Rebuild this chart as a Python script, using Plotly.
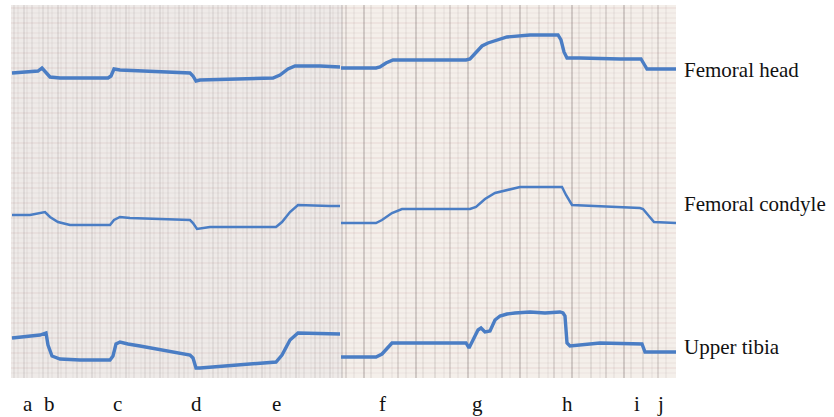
import plotly.graph_objects as go

# ---- data (time positions along the recording, level readings) ----
head_t = [12, 38, 42, 46, 50, 60, 108, 111, 114, 120, 150, 190, 193, 196, 200, 240, 273, 280, 288, 295, 320, 340,
          None,
          341, 376, 380, 386, 393, 430, 466, 470, 476, 482, 488, 497, 507, 530, 558, 561, 564, 567, 580, 620, 641, 644, 647, 676]
head_y = [73, 71, 68, 72, 77, 78, 78, 76, 69, 70, 71, 73, 76, 81, 80, 79, 78, 75, 69, 66, 66, 67,
          None,
          68, 68, 67, 63, 60, 60, 60, 59, 52, 46, 43, 40, 37, 35, 35, 40, 52, 58, 58, 59, 59, 64, 69, 69]

condyle_t = [12, 30, 45, 50, 58, 70, 110, 114, 120, 130, 190, 193, 197, 210, 276, 282, 290, 298, 330, 340,
             None,
             341, 376, 382, 392, 402, 440, 470, 476, 485, 495, 520, 562, 566, 572, 600, 640, 643, 648, 654, 676]
condyle_y = [215, 215, 212, 217, 222, 225, 225, 220, 217, 218, 220, 223, 229, 227, 227, 222, 212, 205, 206, 206,
             None,
             223, 223, 220, 213, 209, 209, 209, 207, 199, 193, 187, 187, 195, 205, 206, 208, 209, 215, 222, 223]

tibia_t = [12, 40, 46, 48, 52, 60, 80, 110, 113, 116, 120, 128, 140, 190, 193, 196, 200, 240, 276, 282, 290, 298, 340,
           None,
           341, 376, 382, 392, 466, 469, 472, 478, 481, 485, 490, 495, 500, 507, 515, 530, 545, 560, 563, 565, 567, 570, 600, 640, 642, 645, 676]
tibia_y = [338, 335, 333, 345, 356, 359, 360, 360, 356, 344, 342, 344, 346, 355, 358, 368, 368, 365, 362, 355, 340, 333, 334,
           None,
           357, 357, 354, 343, 343, 348, 342, 330, 328, 332, 331, 320, 316, 314, 313, 312, 313, 312, 313, 316, 343, 346, 343, 344, 344, 352, 352]

series_names = ["Femoral head", "Femoral condyle", "Upper tibia"]
series_label_y = [70, 204, 347]

event_labels = ["a", "b", "c", "d", "e", "f", "g", "h", "i", "j"]
event_t = [28, 49, 117, 197, 276, 382, 477, 567, 637, 660]

# ---- layout constants ----
W, H = 834, 417
X0, X1 = 11, 676      # plot left/right in x units (= pixels)
Y0, Y1 = 5, 378       # top/bottom
LINE = "#4a7dc4"

fig = go.Figure()

shapes = []
shapes.append(dict(type="rect", xref="x", yref="y", x0=X0, x1=342, y0=Y0, y1=Y1,
                   fillcolor="#eeeae8", line=dict(width=0), layer="below"))
shapes.append(dict(type="rect", xref="x", yref="y", x0=342, x1=X1, y0=Y0, y1=Y1,
                   fillcolor="#f4efea", line=dict(width=0), layer="below"))
# horizontal pinkish rulings
yv = Y0 + 3
k = 0
while yv < Y1:
    op = [0.22, 0.10, 0.14][k % 3]
    shapes.append(dict(type="line", xref="x", yref="y", x0=X0, x1=X1, y0=yv, y1=yv,
                       line=dict(color=f"rgba(190,140,140,{op})", width=1), layer="below"))
    yv += 5
    k += 1
# irregular darker vertical rulings on the right sheet
k = 0
xv = 346.0
while xv < X1:
    op = [0.35, 0.12, 0.5, 0.18, 0.25, 0.1][k % 6]
    shapes.append(dict(type="line", xref="x", yref="y", x0=xv, x1=xv, y0=Y0, y1=Y1,
                       line=dict(color=f"rgba(100,90,90,{op})", width=1), layer="below"))
    xv += [8, 10, 7, 12, 9, 6][k % 6]
    k += 1
# textured vertical strokes on the left sheet
k = 0
xv = 14.0
while xv < 341:
    op = [0.2, 0.1, 0.26, 0.12, 0.18, 0.08, 0.22][k % 7]
    shapes.append(dict(type="line", xref="x", yref="y", x0=xv, x1=xv, y0=Y0, y1=Y1,
                       line=dict(color=f"rgba(120,110,110,{op})", width=1), layer="below"))
    xv += [4, 6, 3, 5, 7, 4, 5][k % 7]
    k += 1
# seam between sheets
shapes.append(dict(type="line", xref="x", yref="y", x0=342, x1=342, y0=Y0, y1=Y1,
                   line=dict(color="rgba(90,80,80,0.35)", width=1), layer="below"))

for name, t, y, w in [(series_names[0], head_t, head_y, 3.4),
                      (series_names[1], condyle_t, condyle_y, 2.5),
                      (series_names[2], tibia_t, tibia_y, 3.4)]:
    fig.add_trace(go.Scatter(x=t, y=y, mode="lines", name=name,
                             line=dict(color=LINE, width=w), connectgaps=False,
                             showlegend=False, hoverinfo="skip"))

annotations = []
for lab, ly in zip(series_names, series_label_y):
    annotations.append(dict(text=lab, xref="paper", yref="paper",
                            x=(682 - X0) / (X1 - X0), y=(Y1 - ly) / (Y1 - Y0),
                            xanchor="left", yanchor="middle", showarrow=False,
                            font=dict(family="Liberation Serif", size=21, color="#111111")))
for lab, tx in zip(event_labels, event_t):
    annotations.append(dict(text=lab, xref="paper", yref="paper",
                            x=(tx - X0) / (X1 - X0), y=-(404 - Y1) / (Y1 - Y0),
                            xanchor="center", yanchor="middle", showarrow=False,
                            font=dict(family="Liberation Serif", size=21, color="#111111")))

fig.update_layout(
    width=W, height=H,
    margin=dict(l=X0, r=W - X1, t=Y0, b=H - Y1),
    paper_bgcolor="white", plot_bgcolor="white",
    shapes=shapes, annotations=annotations,
    xaxis=dict(range=[X0, X1], showgrid=False, zeroline=False, showticklabels=False, ticks="", fixedrange=True),
    yaxis=dict(range=[Y1, Y0], showgrid=False, zeroline=False, showticklabels=False, ticks="", fixedrange=True),
)

fig.write_html("out.html", config={"displayModeBar": False},
               post_script="document.body.style.margin='0';document.body.style.overflow='hidden';")
